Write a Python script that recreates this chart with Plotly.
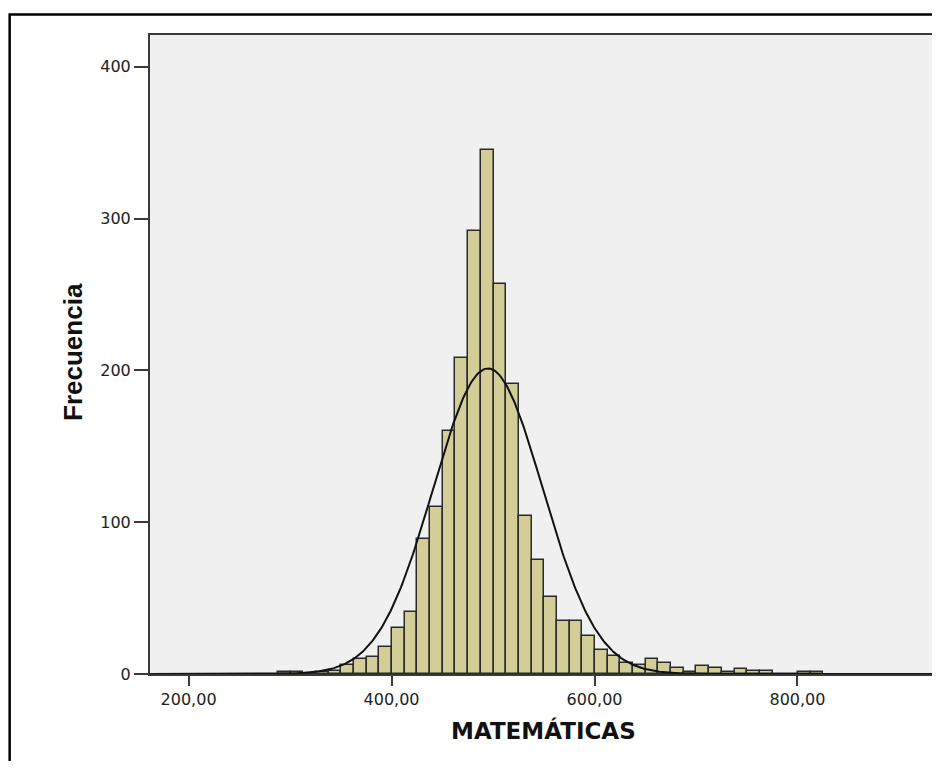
import numpy as np
import plotly.graph_objects as go

# ---- data ----
BIN_START = 288.0
BIN_WIDTH = 12.5
counts = [1, 1, 0, 1, 2, 6, 10, 11, 18, 30, 41, 89, 110, 160, 208, 292, 345,
          257, 191, 104, 75, 51, 35, 35, 25, 16, 12, 7, 6, 10, 7, 4, 1, 5, 4,
          1, 3, 2, 2, 0, 0, 1, 1]
curve_mean = 495.0
curve_sd = 54.0
x_tick_vals = [200, 400, 600, 800]
x_tick_text = ["200,00", "400,00", "600,00", "800,00"]
y_tick_vals = [0, 100, 200, 300, 400]
y_tick_text = ["0", "100", "200", "300", "400"]
x_title = "MATEMÁTICAS"
y_title = "Frecuencia"

centers = [BIN_START + BIN_WIDTH * (i + 0.5) for i in range(len(counts))]
n_total = sum(counts)
X_RANGE = [162, 937.5]
Y_RANGE = [0, 421]

xs = np.linspace(X_RANGE[0], X_RANGE[1], 600)
ys = n_total * BIN_WIDTH / (curve_sd * np.sqrt(2 * np.pi)) * np.exp(-0.5 * ((xs - curve_mean) / curve_sd) ** 2)

# page body has an 8px margin: place everything 8px up/left of target
OFF = 8
W, H = 940 - OFF, 769 - 2 * OFF
L, T, R = 150 - OFF, 35 - OFF, 1
PLOT_BOTTOM = 674.5 - OFF
B = H - PLOT_BOTTOM
PW, PH = W - L - R, PLOT_BOTTOM - T


def px_x(p):
    return (p - OFF - L) / PW


def px_y(p):
    return (PLOT_BOTTOM - (p - OFF)) / PH


fig = go.Figure()
fig.add_trace(go.Bar(
    x=centers, y=counts, width=BIN_WIDTH,
    marker=dict(color="#d3ce97", line=dict(color="#2a2a2a", width=1.5)),
    hoverinfo="x+y", showlegend=False,
))
fig.add_trace(go.Scatter(
    x=xs, y=ys, mode="lines", line=dict(color="#111111", width=2),
    hoverinfo="skip", showlegend=False,
))

fig.update_layout(
    width=W, height=H,
    margin=dict(l=L, r=R, t=T, b=B, pad=0),
    paper_bgcolor="white", plot_bgcolor="#f0f0f0",
    bargap=0,
    font=dict(family="DejaVu Sans", size=16, color="#222222"),
    xaxis=dict(
        range=X_RANGE, tickvals=x_tick_vals, ticktext=x_tick_text,
        showgrid=False, zeroline=False,
        showline=True, linecolor="#3a3a3a", linewidth=2, mirror=True,
        ticks="outside", ticklen=10, tickwidth=2, tickcolor="#3a3a3a",
        tickfont=dict(family="DejaVu Sans", size=16, color="#222222"),
    ),
    yaxis=dict(
        range=Y_RANGE, tickvals=y_tick_vals, ticktext=y_tick_text,
        showgrid=False, zeroline=False,
        showline=True, linecolor="#3a3a3a", linewidth=2, mirror=True,
        ticks="outside", ticklen=14, tickwidth=2, tickcolor="#3a3a3a",
        tickfont=dict(family="DejaVu Sans", size=16, color="#222222"),
    ),
    annotations=[
        dict(text="<b>" + x_title + "</b>", xref="paper", yref="paper",
             x=px_x(544), y=px_y(731), xanchor="center", yanchor="middle",
             showarrow=False, font=dict(family="DejaVu Sans", size=23, color="#111111")),
        dict(text="<b>" + y_title + "</b>", xref="paper", yref="paper",
             x=px_x(73), y=px_y(352), xanchor="center", yanchor="middle",
             textangle=-90, showarrow=False,
             font=dict(family="Liberation Sans Narrow, Liberation Sans", size=26, color="#111111")),
    ],
    shapes=[
        dict(type="rect", xref="paper", yref="paper",
             x0=px_x(9.3), x1=1.05,
             y0=-0.3, y1=px_y(14.5),
             line=dict(color="black", width=2.5), fillcolor="rgba(0,0,0,0)", layer="above"),
    ],
)

fig.write_html("out.html")
